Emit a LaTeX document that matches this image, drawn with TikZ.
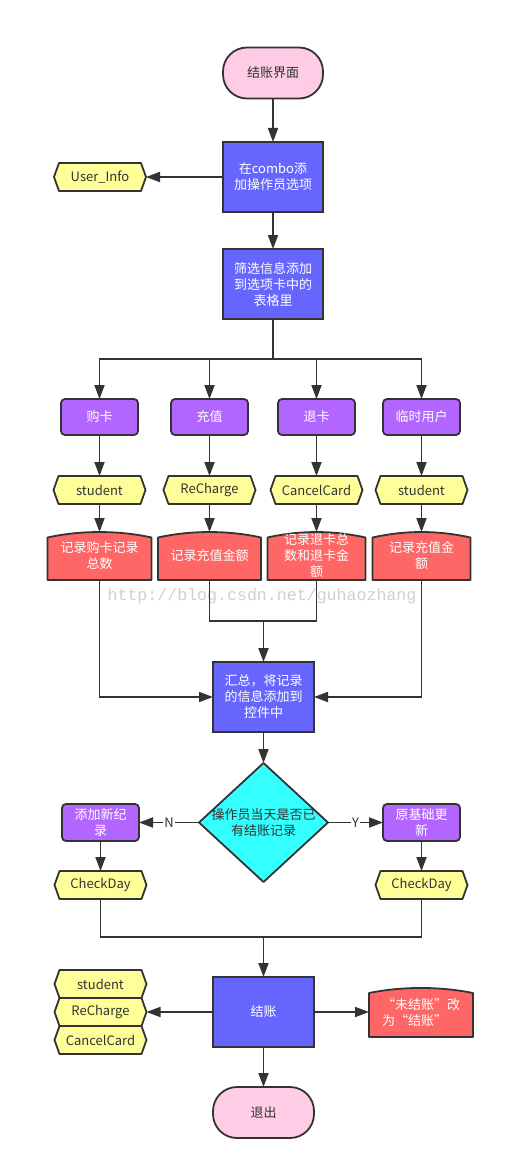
\documentclass[tikz,border=0pt]{standalone}
\usepackage{fontspec}
\setmainfont{Noto Sans CJK SC}
\newfontfamily\wmfont{Liberation Mono}
\usetikzlibrary{arrows.meta,backgrounds,calc}
\definecolor{dk}{HTML}{333333}
\definecolor{pinkc}{HTML}{FFCCE6}
\definecolor{bluec}{HTML}{6666FF}
\definecolor{purc}{HTML}{B266FF}
\definecolor{yelc}{HTML}{FFFF99}
\definecolor{redc}{HTML}{FF6666}
\definecolor{cyanc}{HTML}{33FFFF}
\definecolor{wmc}{HTML}{D0D0D0}
\tikzset{
  base/.style={inner sep=0pt, outer sep=0pt, align=center, font=\fontsize{13}{16}\selectfont},
  term/.style={base, draw=dk, line width=1.8pt, fill=pinkc, rounded corners=24pt, minimum width=100pt, minimum height=51pt, text=dk},
  proc/.style={base, draw=dk, line width=1.8pt, fill=bluec, minimum width=100pt, minimum height=70pt, text=white},
  pur/.style={base, draw=dk, line width=1.8pt, fill=purc, rounded corners=4pt, minimum width=77pt, minimum height=36pt, text=white},
  hexn/.style={base, minimum width=92pt, minimum height=28pt, text=dk},
  docn/.style={base, minimum height=48pt, text=white},
  decn/.style={base, minimum width=129pt, minimum height=119pt, text=dk},
  shp/.style={draw=dk, line width=1.8pt, line join=round},
  conn/.style={draw=dk, line width=1.8pt},
  arr/.style={conn, -{Triangle[length=14pt,width=10pt]}},
  lab/.style={fill=white, inner sep=1pt, text=dk, font=\fontsize{13}{13}\selectfont}
}
\newcommand\hexat[1]{\draw[shp, fill=yelc] (#1.west) -- ([xshift=5pt]#1.north west) -- ([xshift=-5pt]#1.north east) -- (#1.east) -- ([xshift=-5pt]#1.south east) -- ([xshift=5pt]#1.south west) -- cycle;}
\newcommand\docat[1]{\draw[shp, fill=redc] (#1.south west) -- ([yshift=-5.5pt]#1.north west) .. controls ([xshift=33pt,yshift=1.8pt]#1.north west) and ([xshift=-33pt,yshift=1.8pt]#1.north east) .. ([yshift=-5.5pt]#1.north east) -- (#1.south east) -- cycle;}
\begin{document}
\begin{tikzpicture}[x=1pt,y=-1pt]
\useasboundingbox (0,0) rectangle (505,1169);
% nodes
\node[term] (start) at (273,73) {结账界面};
\node[proc] (combo) at (273,177) {在combo添\\加操作员选项};
\node[hexn] (ui) at (100,177) {User\_Info};
\node[proc] (filter) at (273,284) {筛选信息添加\\到选项卡中的\\表格里};
\node[pur] (p1) at (99.5,417) {购卡};
\node[pur] (p2) at (209.5,417) {充值};
\node[pur] (p3) at (316.5,417) {退卡};
\node[pur] (p4) at (421.5,417) {临时用户};
\node[hexn] (h1) at (99.5,490) {student};
\node[hexn] (h2) at (209.5,490) {ReCharge};
\node[hexn] (h3) at (316.5,490) {CancelCard};
\node[hexn] (h4) at (421.5,490) {student};
\node[docn, minimum width=104pt] (r1) at (99.5,556) {记录购卡记录\\总数};
\node[docn, minimum width=103pt] (r2) at (209.5,556) {记录充值金额};
\node[docn, minimum width=98pt] (r3) at (316.5,556) {记录退卡总\\数和退卡金\\额};
\node[docn, minimum width=98pt] (r4) at (421.5,556) {记录充值金\\额};
\node[text=wmc, font=\wmfont\fontsize{16.6}{17}\selectfont, inner sep=0pt] (wm) at (262,596) {http://blog.csdn.net/guhaozhang};
\node[proc, minimum width=101pt] (sum) at (263.5,697) {汇总，将记录\\的信息添加到\\控件中};
\node[decn] (dec) at (263.5,822.5) {操作员当天是否已\\有结账记录};
\node[pur, minimum height=37pt] (addn) at (100.5,822.5) {添加新纪\\录};
\node[pur, minimum height=37pt] (upd) at (421.5,822.5) {原基础更\\新};
\node[hexn] (cd1) at (100.5,885) {CheckDay};
\node[hexn] (cd2) at (421.5,885) {CheckDay};
\node[proc, minimum width=101pt] (co) at (263.5,1012) {结账};
\node[hexn] (s1) at (100.5,984) {student};
\node[hexn] (s2) at (100.5,1012) {ReCharge};
\node[hexn] (s3) at (100.5,1040) {CancelCard};
\node[docn, minimum width=104pt, minimum height=49pt, align=left] (rr) at (421,1012.5) {“未结账”改\\为“结账”};
\node[term, minimum width=101pt] (exit) at (263.5,1112.5) {退出};
% helper coordinates
\coordinate (br) at (273,359);
\coordinate (j1) at (263.5,621);
\coordinate (j2) at (263.5,937);
% connectors
\draw[arr] (start.south) -- (combo.north);
\draw[arr] (combo.west) -- (ui.east);
\draw[arr] (combo.south) -- (filter.north);
\draw[conn] (filter.south) -- (br);
\draw[arr] (br) -| (p1.north);
\draw[arr] (br) -| (p2.north);
\draw[arr] (br) -| (p3.north);
\draw[arr] (br) -| (p4.north);
\foreach \i in {1,2,3,4}{
  \draw[arr] (p\i.south) -- (h\i.north);
  \draw[arr] (h\i.south) -- (r\i.north);
}
\draw[arr] (r1.south) |- (sum.west);
\draw[arr] (r4.south) |- (sum.east);
\draw[conn] (r2.south) |- (j1) -| (r3.south);
\draw[arr] (j1) -- (sum.north);
\draw[arr] (sum.south) -- (dec.north);
\draw[arr] (dec.west) -- node[lab] {N} (addn.east);
\draw[arr] (dec.east) -- node[lab] {Y} (upd.west);
\draw[arr] (addn.south) -- (cd1.north);
\draw[arr] (upd.south) -- (cd2.north);
\draw[conn] (cd1.south) |- (j2) -| (cd2.south);
\draw[arr] (j2) -- (co.north);
\draw[arr] (co.west) -- (s2.east);
\draw[arr] (co.east) -- (co.east -| rr.west);
\draw[arr] (co.south) -- (exit.north);
% background shapes
\begin{scope}[on background layer]
\fill[white] (0,0) rectangle (505,1169);
\hexat{ui}
\foreach \n in {h1,h2,h3,h4,cd1,cd2,s1,s2,s3}{\hexat{\n}}
\foreach \n in {r1,r2,r3}{\docat{\n}}
\docat{r4}
\draw[shp, fill=redc] (rr.south west) -- ([yshift=-5pt]rr.north west) .. controls ([xshift=33pt,yshift=1.7pt]rr.north west) and ([xshift=-33pt,yshift=1.7pt]rr.north east) .. ([yshift=-5pt]rr.north east) -- (rr.south east) -- cycle;
\draw[shp, fill=cyanc] (dec.north) -- (dec.east) -- (dec.south) -- (dec.west) -- cycle;
\end{scope}
\end{tikzpicture}
\end{document}
